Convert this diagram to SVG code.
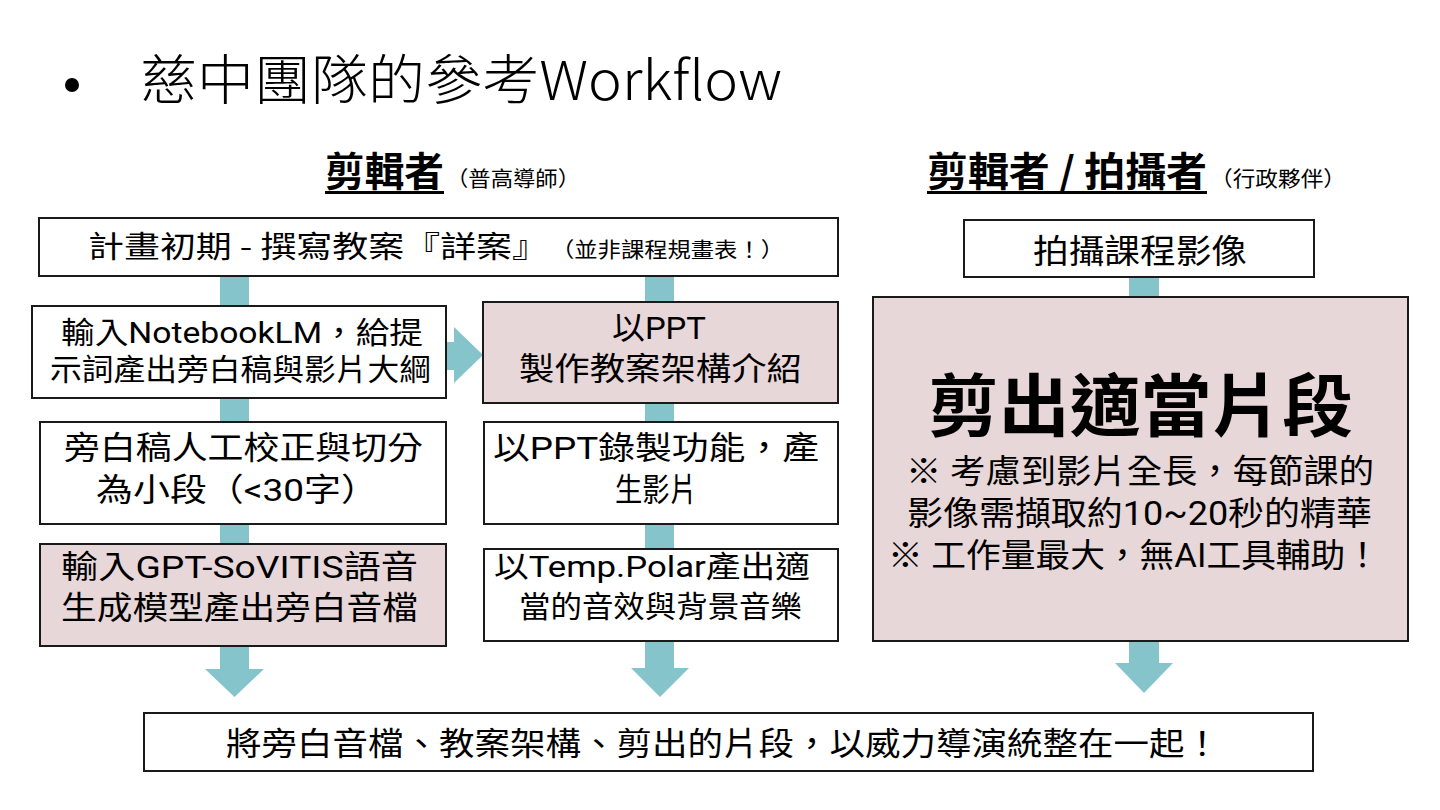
<svg xmlns="http://www.w3.org/2000/svg" width="1440" height="810" viewBox="0 0 1440 810">
<style>
text{font-family:"Noto Sans CJK TC","Noto Sans CJK SC",sans-serif;fill:#000;}
text.ml{font-family:Roboto,"Noto Sans CJK TC","Noto Sans CJK SC",sans-serif;}
.box{fill:#fff;stroke:#1a1a1a;stroke-width:2;}
.pink{fill:#e8d7d9;stroke:#1a1a1a;stroke-width:2;}
.conn{fill:#86c4cc;}
.hd{font-size:40px;font-weight:700;}
.sm{font-size:21px;}
</style>
<rect width="1440" height="810" fill="#fff"/>
<g id="title">
<circle cx="72" cy="85" r="7" fill="#000"/>
<text x="140" y="100" font-size="54" font-weight="300" textLength="642" lengthAdjust="spacingAndGlyphs">慈中團隊的參考Workflow</text>
</g>
<g id="header-left">
<text class="hd" x="325" y="186" textLength="119" lengthAdjust="spacingAndGlyphs">剪輯者</text>
<rect x="325" y="191" width="119" height="3" fill="#000"/>
<text class="sm" x="446" y="186" textLength="134" lengthAdjust="spacingAndGlyphs">（普高導師）</text>
</g>
<g id="header-right">
<text class="hd" x="927" y="186" textLength="280" lengthAdjust="spacingAndGlyphs">剪輯者 / 拍攝者</text>
<rect x="927" y="191" width="280" height="3" fill="#000"/>
<text class="sm" x="1210" y="186" textLength="136" lengthAdjust="spacingAndGlyphs">（行政夥伴）</text>
</g>
<g id="connectors">
<rect class="conn" x="220" y="276" width="29" height="393"/>
<polygon class="conn" points="205,669 264,669 234.5,697"/>
<rect class="conn" x="645" y="276" width="29" height="392"/>
<polygon class="conn" points="631,668 689,668 660,697"/>
<rect class="conn" x="1129" y="277" width="30" height="386"/>
<polygon class="conn" points="1115,663 1173,663 1144,693"/>
<polygon class="conn" points="446,342 454,342 454,327 483,355 454,383 454,370 446,370"/>
</g>
<g id="node-plan">
<rect class="box" x="39" y="218" width="799" height="58"/>
<text x="88" y="257" font-size="30" textLength="460" lengthAdjust="spacingAndGlyphs">計畫初期 - 撰寫教案『詳案』</text>
<text x="551" y="257" font-size="21" textLength="233" lengthAdjust="spacingAndGlyphs">（並非課程規畫表！）</text>
</g>
<g id="node-notebooklm">
<rect class="box" x="32" y="306" width="414" height="92"/>
<text class="ml" font-size="30"><tspan x="61" y="343" textLength="362" lengthAdjust="spacingAndGlyphs">輸入NotebookLM，給提</tspan><tspan x="50" y="380" textLength="381" lengthAdjust="spacingAndGlyphs">示詞產出旁白稿與影片大綱</tspan></text>
</g>
<g id="node-proofread">
<rect class="box" x="40" y="422" width="406" height="102"/>
<text class="ml" font-size="32"><tspan x="64" y="459" textLength="359" lengthAdjust="spacingAndGlyphs">旁白稿人工校正與切分</tspan><tspan x="96" y="501" textLength="282" lengthAdjust="spacingAndGlyphs">為小段（&lt;30字）</tspan></text>
</g>
<g id="node-gptsovits">
<rect class="pink" x="40" y="544" width="406" height="102"/>
<text class="ml" font-size="32"><tspan x="61" y="578" textLength="357" lengthAdjust="spacingAndGlyphs">輸入GPT-SoVITIS語音</tspan><tspan x="61" y="619" textLength="357" lengthAdjust="spacingAndGlyphs">生成模型產出旁白音檔</tspan></text>
</g>
<g id="node-ppt">
<rect class="pink" x="483" y="302" width="355" height="101"/>
<text class="ml" font-size="32"><tspan x="612" y="339" textLength="94" lengthAdjust="spacingAndGlyphs">以PPT</tspan><tspan x="519" y="380" textLength="283" lengthAdjust="spacingAndGlyphs">製作教案架構介紹</tspan></text>
</g>
<g id="node-record">
<rect class="box" x="484" y="422" width="354" height="102"/>
<text class="ml" font-size="32"><tspan x="493" y="459" textLength="326" lengthAdjust="spacingAndGlyphs">以PPT錄製功能，產</tspan><tspan x="615" y="501" textLength="82" lengthAdjust="spacingAndGlyphs">生影片</tspan></text>
</g>
<g id="node-temppolar">
<rect class="box" x="484" y="549" width="354" height="92"/>
<text class="ml" font-size="30"><tspan x="494" y="577" textLength="316" lengthAdjust="spacingAndGlyphs">以Temp.Polar產出適</tspan><tspan x="519" y="617" textLength="283" lengthAdjust="spacingAndGlyphs">當的音效與背景音樂</tspan></text>
</g>
<g id="node-shoot">
<rect class="box" x="964" y="220" width="350" height="57"/>
<text x="1033" y="263" font-size="33" textLength="214" lengthAdjust="spacingAndGlyphs">拍攝課程影像</text>
</g>
<g id="node-cut">
<rect class="pink" x="873" y="297" width="535" height="344"/>
<text class="ml" font-size="33"><tspan x="928" y="431" font-size="68" font-weight="700" textLength="425" lengthAdjust="spacingAndGlyphs">剪出適當片段</tspan><tspan x="906" y="483" textLength="468" lengthAdjust="spacingAndGlyphs">※ 考慮到影片全長，每節課的</tspan><tspan x="907" y="525" textLength="465" lengthAdjust="spacingAndGlyphs">影像需擷取約10~20秒的精華</tspan><tspan x="888" y="567" textLength="492" lengthAdjust="spacingAndGlyphs">※ 工作量最大，無AI工具輔助！</tspan></text>
</g>
<g id="node-merge">
<rect class="box" x="144" y="713" width="1169" height="58"/>
<text x="226" y="755" font-size="32" textLength="994" lengthAdjust="spacingAndGlyphs">將旁白音檔、教案架構、剪出的片段，以威力導演統整在一起！</text>
</g>
</svg>
